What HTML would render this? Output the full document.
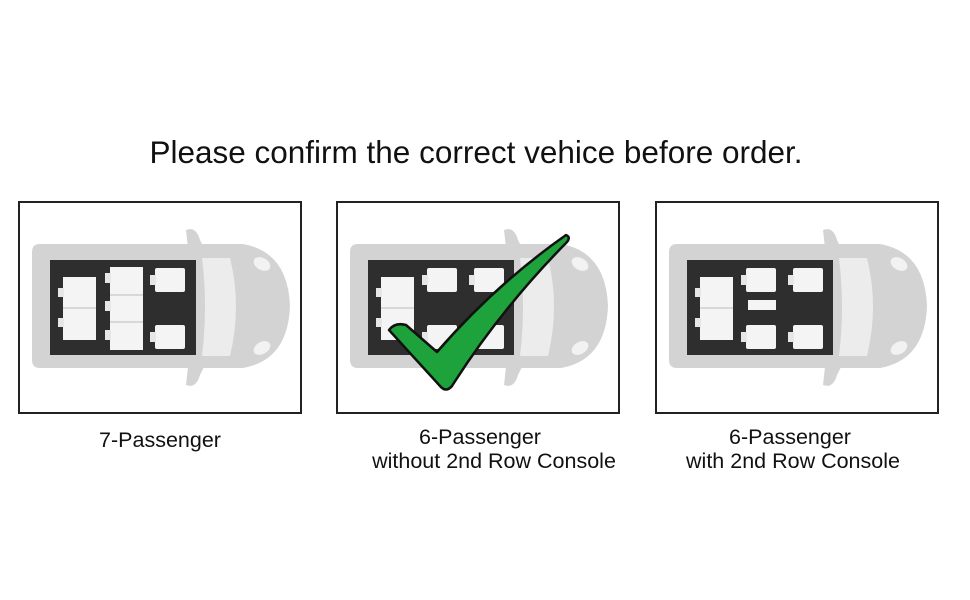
<!DOCTYPE html>
<html><head><style>
body{margin:0;background:#fff;}
svg{display:block;font-family:"Liberation Sans",Arial,sans-serif;}
</style></head><body>
<svg width="970" height="600" viewBox="0 0 970 600" xmlns="http://www.w3.org/2000/svg">
<defs>
<g id="car">
  <path d="M168 30 Q178 26 182 40 L186 48 L170 48 Z" fill="#d3d3d3"/>
  <path d="M168 185 Q178 189 182 175 L186 167 L170 167 Z" fill="#d3d3d3"/>
  <path d="M22 44 L225 44 Q270 52 272 106 Q270 160 225 168 L22 168 Q14 168 14 160 L14 52 Q14 44 22 44 Z" fill="#d3d3d3"/>
  <path d="M184 58 L212 58 Q224 106 212 156 L184 156 Q190 106 184 58 Z" fill="#ececec"/>
  <ellipse cx="244" cy="64" rx="9" ry="6" fill="#f2f2f2" transform="rotate(30 244 64)"/>
  <ellipse cx="244" cy="148" rx="9" ry="6" fill="#f2f2f2" transform="rotate(-30 244 148)"/>
  <rect x="32" y="60" width="146" height="95" fill="#2e2e2e"/>
</g>
<g id="seatF"><rect x="5" y="0" width="30" height="24" rx="2" fill="#f4f4f4"/><rect x="0" y="7" width="6" height="10" fill="#e6e6e6"/></g>
</defs>

<text x="476" y="163" font-size="31.5" text-anchor="middle" fill="#111">Please confirm the correct vehice before order.</text>

<rect x="19" y="202" width="282" height="211" fill="#fff" stroke="#222" stroke-width="2"/>
<g transform="translate(18,200)">
  <use href="#car"/>
  <rect x="45" y="77" width="33" height="63" fill="#f4f4f4"/><line x1="45" y1="108" x2="78" y2="108" stroke="#bbb"/>
  <rect x="40" y="88" width="6" height="9" fill="#e6e6e6"/><rect x="40" y="118" width="6" height="9" fill="#e6e6e6"/>
  <rect x="92" y="67" width="33" height="83" fill="#f4f4f4"/><line x1="92" y1="95" x2="125" y2="95" stroke="#bbb"/><line x1="92" y1="122" x2="125" y2="122" stroke="#bbb"/>
  <rect x="87" y="73" width="6" height="10" fill="#e6e6e6"/><rect x="87" y="101" width="6" height="10" fill="#e6e6e6"/><rect x="87" y="130" width="6" height="10" fill="#e6e6e6"/>
  <use href="#seatF" transform="translate(132,68)"/>
  <use href="#seatF" transform="translate(132,125)"/>
</g>
<text x="160" y="447" font-size="21.5" text-anchor="middle" fill="#111">7-Passenger</text>

<rect x="337" y="202" width="282" height="211" fill="#fff" stroke="#222" stroke-width="2"/>
<g transform="translate(336,200)">
  <use href="#car"/>
  <rect x="45" y="77" width="33" height="63" fill="#f4f4f4"/><line x1="45" y1="108" x2="78" y2="108" stroke="#bbb"/>
  <rect x="40" y="88" width="6" height="9" fill="#e6e6e6"/><rect x="40" y="118" width="6" height="9" fill="#e6e6e6"/>
  <use href="#seatF" transform="translate(86,68)"/>
  <use href="#seatF" transform="translate(86,125)"/>
  <use href="#seatF" transform="translate(133,68)"/>
  <use href="#seatF" transform="translate(133,125)"/>
</g>
<path d="M389 330 Q395 322 406 325 L437 352 Q495 285 566 235 Q571 237 567 242 Q500 310 452 386 Q446 393 440 386 Z" fill="#1ea33c" stroke="#111" stroke-width="2.5" stroke-linejoin="round"/>
<text x="480" y="444" font-size="21.5" text-anchor="middle" fill="#111">6-Passenger</text>
<text x="494" y="468" font-size="21.5" text-anchor="middle" fill="#111">without 2nd Row Console</text>

<rect x="656" y="202" width="282" height="211" fill="#fff" stroke="#222" stroke-width="2"/>
<g transform="translate(655,200)">
  <use href="#car"/>
  <rect x="45" y="77" width="33" height="63" fill="#f4f4f4"/><line x1="45" y1="108" x2="78" y2="108" stroke="#bbb"/>
  <rect x="40" y="88" width="6" height="9" fill="#e6e6e6"/><rect x="40" y="118" width="6" height="9" fill="#e6e6e6"/>
  <use href="#seatF" transform="translate(86,68)"/>
  <use href="#seatF" transform="translate(86,125)"/>
  <rect x="93" y="100" width="28" height="10" fill="#f4f4f4"/>
  <use href="#seatF" transform="translate(133,68)"/>
  <use href="#seatF" transform="translate(133,125)"/>
</g>
<text x="790" y="444" font-size="21.5" text-anchor="middle" fill="#111">6-Passenger</text>
<text x="793" y="468" font-size="21.5" text-anchor="middle" fill="#111">with 2nd Row Console</text>
</svg>
</body></html>
